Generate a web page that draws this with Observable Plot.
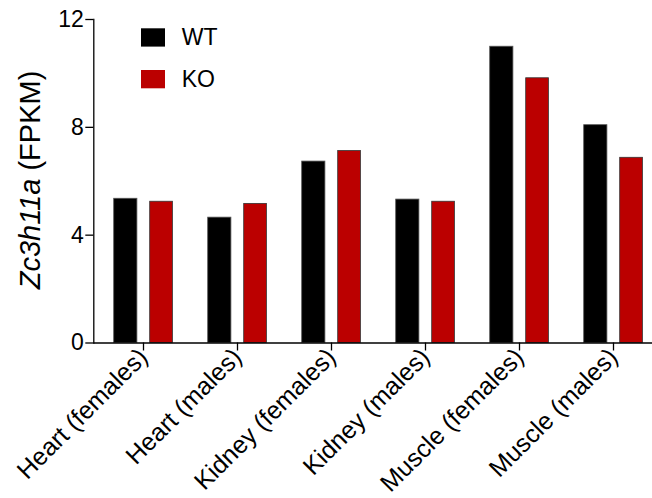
<!DOCTYPE html>
<html><head><meta charset="utf-8">
<script src="https://cdn.jsdelivr.net/npm/d3@7"></script>
<script src="https://cdn.jsdelivr.net/npm/@observablehq/plot@0.6"></script>
<style>
body{margin:0;background:#fff;}
#chart{position:relative;width:652px;height:498px;overflow:hidden;}
</style></head><body><div id="chart"></div>
<script>
const categories = ["Heart (females)", "Heart (males)", "Kidney (females)", "Kidney (males)", "Muscle (females)", "Muscle (males)"];
const series = ["WT", "KO"];
const wtValues = [5.35, 4.65, 6.73, 5.32, 10.99, 8.08];
const koValues = [5.24, 5.16, 7.12, 5.24, 9.82, 6.87];
const yTicks = [0, 4, 8, 12];
const colors = ["#000000", "#BB0000"];
const yTitleItalic = "Zc3h11a";
const yTitleRest = " (FPKM)";

const FONT = "'Liberation Sans', Arial, Helvetica, sans-serif";
const rows = categories.flatMap((c, i) => [
  {category: c, group: series[0], value: wtValues[i]},
  {category: c, group: series[1], value: koValues[i]}
]);

const plot = Plot.plot({
  width: 652, height: 498,
  marginLeft: 93.3, marginRight: 0, marginTop: 19, marginBottom: 155.5,
  style: {fontFamily: FONT, background: "white", color: "black", overflow: "hidden"},
  x: {domain: categories, range: [93.3, 662.1], padding: 0},
  y: {domain: [0, 12]},
  color: {domain: series, range: colors},
  marks: [
    Plot.barY(rows.filter(d => d.group === series[0]), {x: "category", y: "value", fill: "group", stroke: "#555", strokeWidth: 0.8, insetLeft: 17.7, insetRight: 53.1}),
    Plot.barY(rows.filter(d => d.group === series[1]), {x: "category", y: "value", fill: "group", stroke: "#333", strokeWidth: 0.8, insetLeft: 53.7, insetRight: 17.6}),
    Plot.ruleY([0], {stroke: "black", strokeWidth: 1.3}),
    Plot.frame({anchor: "left", stroke: "black", strokeWidth: 1.3}),
    Plot.axisY({ticks: yTicks, tickSize: 8, tickPadding: 2, fontSize: 23, strokeWidth: 1.3, label: null}),
    Plot.axisX({tickSize: 8, tickPadding: 2, tickRotate: -45, fontSize: 25, strokeWidth: 1.3, label: null, textAnchor: "end"})
  ]
});

document.getElementById("chart").append(plot);
const svg = d3.select(plot);

// y-axis title with italic gene name
const t = svg.append("text")
  .attr("transform", "translate(40,180) rotate(-90)")
  .attr("text-anchor", "middle")
  .style("font-family", FONT)
  .style("font-size", "29px")
  .attr("fill", "black");
t.append("tspan").style("font-style", "italic").text(yTitleItalic);
t.append("tspan").text(yTitleRest);

// legend
const lg = svg.append("g").style("font-family", FONT).style("font-size", "23px").attr("text-anchor", "start");
series.forEach((s, i) => {
  const g = lg.append("g").attr("transform", `translate(141,${28.3 + i * 41.7})`);
  g.append("rect").attr("width", 24).attr("height", 18.3).attr("fill", colors[i]);
  g.append("text").attr("x", 40.7).attr("y", 16.5).attr("text-anchor", "start").attr("fill", "black").text(s);
});
</script></body></html>
